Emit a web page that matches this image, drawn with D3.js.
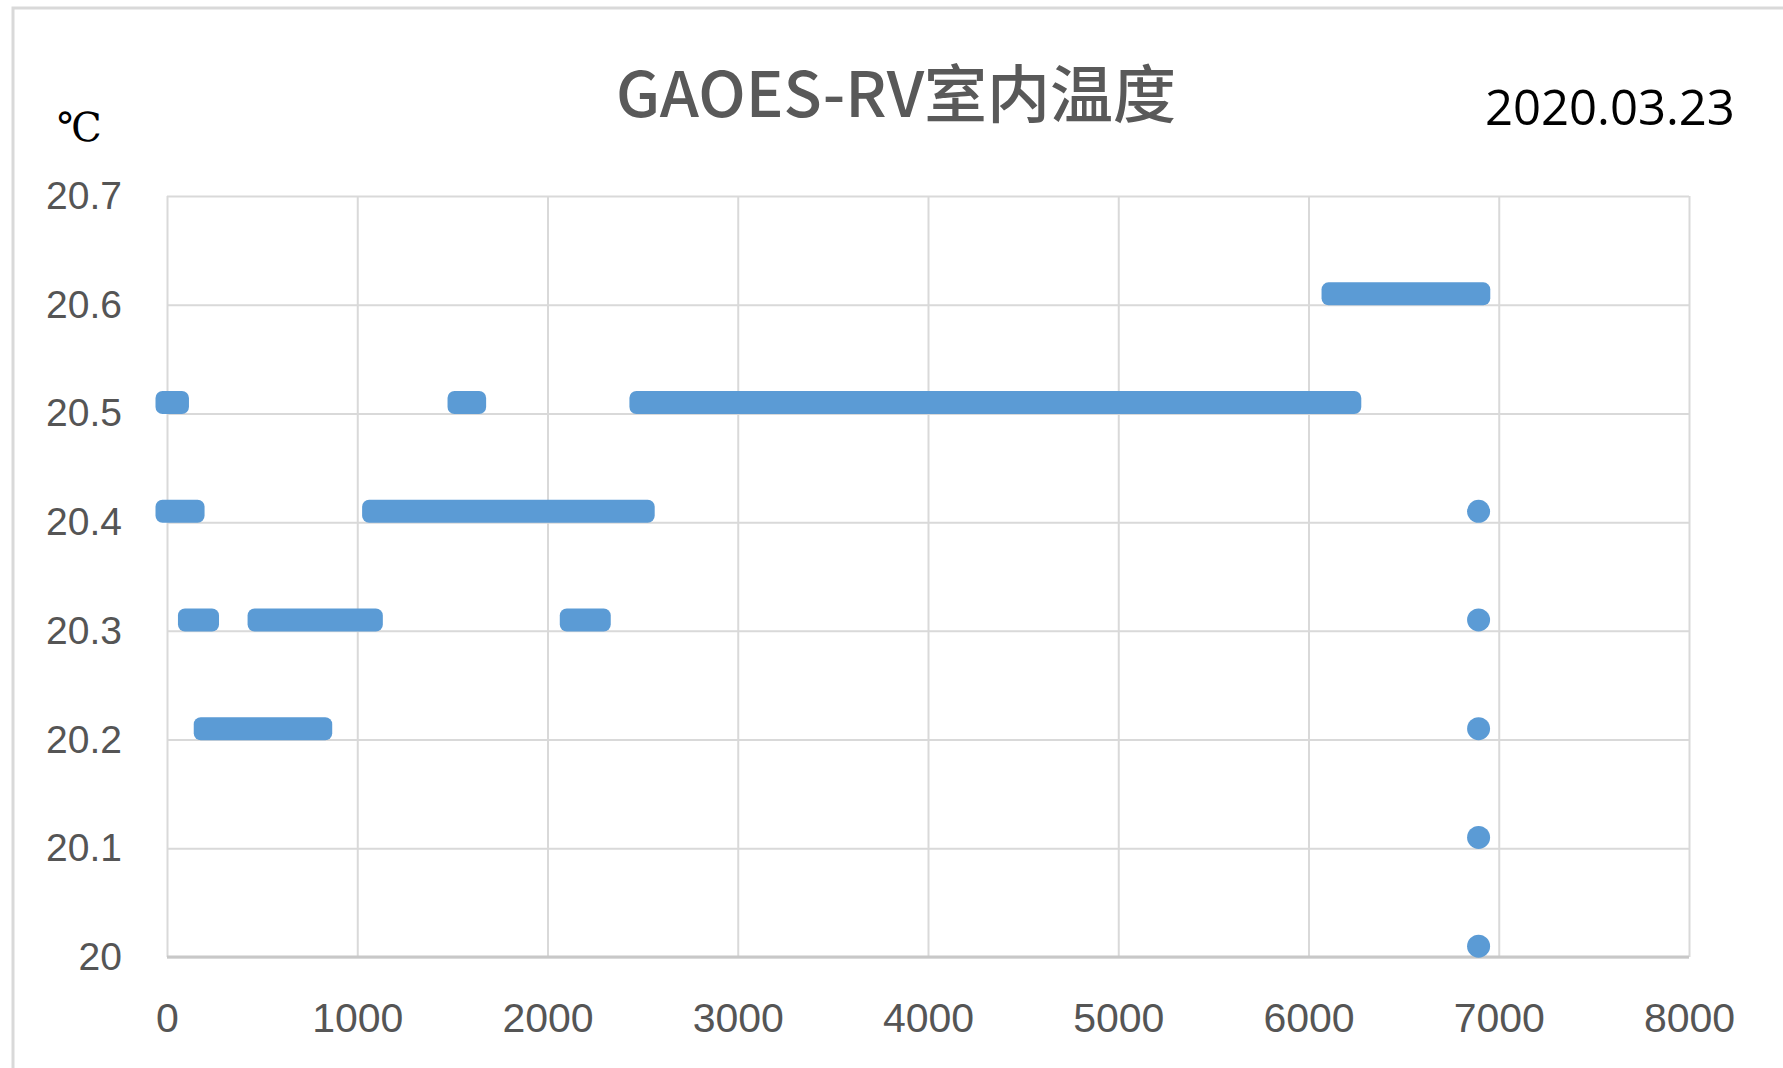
<!DOCTYPE html>
<html>
<head>
<meta charset="utf-8">
<script src="https://cdn.jsdelivr.net/npm/d3@7"></script>
<style>
  html, body { margin: 0; padding: 0; background: #fff; }
  #chart { width: 1783px; height: 1068px; }
  .tick text { fill: #555; font-family: "Liberation Sans", Arial, sans-serif; }
</style>
</head>
<body>
<div id="chart"></div>
<script>
// chart text
const titleText = 'GAOES-RV室内温度';
const dateText = '2020.03.23';
const unitText = '℃';

// axis ticks
const xTicks = [0, 1000, 2000, 3000, 4000, 5000, 6000, 7000, 8000];
const yTicks = [20, 20.1, 20.2, 20.3, 20.4, 20.5, 20.6, 20.7];

// runs of consecutive samples at one reading (sample index from / to, temperature)
const runFrom = [0, 1535, 2491, 6129, 0, 1086, 118, 484, 2125, 201];
const runTo   = [55, 1617, 6217, 6895, 137, 2503, 213, 1074, 2272, 808];
const runTemp = [20.51, 20.51, 20.51, 20.61, 20.41, 20.41, 20.31, 20.31, 20.31, 20.21];

// single samples at the end of the record
const pointX    = [6894, 6894, 6894, 6894, 6894];
const pointTemp = [20.41, 20.31, 20.21, 20.11, 20.01];

class ScatterChart {
    constructor(containerId) {
        this.container = d3.select(`#${containerId}`);
        this.dimensions = {
            width: 1783,
            height: 1068,
            margin: { top: 196, right: 94, bottom: 111, left: 167 }
        };
    }

    render() {
        const { width, height, margin } = this.dimensions;
        const innerWidth = width - margin.left - margin.right;
        const innerHeight = height - margin.top - margin.bottom;
        const blue = '#5b9bd5';
        const markerSize = 23;

        const svg = this.container.append('svg')
            .attr('width', width)
            .attr('height', height);

        // outer chart border (runs off the right and bottom edges)
        svg.append('rect')
            .attr('x', 13).attr('y', 8)
            .attr('width', width + 40).attr('height', height + 40)
            .attr('fill', '#fff')
            .attr('stroke', '#d9d9d9')
            .attr('stroke-width', 3);

        const g = svg.append('g')
            .attr('transform', `translate(${margin.left},${margin.top})`);

        const xScale = d3.scaleLinear().domain([0, 8000]).range([0, innerWidth]);
        const yScale = d3.scaleLinear().domain([20, 20.7]).range([innerHeight, 0]);

        // gridlines
        g.append('g')
            .attr('class', 'grid-x')
            .attr('transform', `translate(0,${innerHeight})`)
            .call(d3.axisBottom(xScale).tickValues(xTicks).tickSize(-innerHeight).tickFormat(''))
            .call(s => s.select('.domain').remove())
            .selectAll('line').attr('stroke', '#d9d9d9').attr('stroke-width', 2);

        g.append('g')
            .attr('class', 'grid-y')
            .call(d3.axisLeft(yScale).tickValues(yTicks).tickSize(-innerWidth).tickFormat(''))
            .call(s => s.select('.domain').remove())
            .selectAll('line').attr('stroke', '#d9d9d9').attr('stroke-width', 2);

        // bottom axis line
        g.append('line')
            .attr('x1', 0).attr('x2', innerWidth)
            .attr('y1', yScale(20)).attr('y2', yScale(20))
            .attr('stroke', '#c8c8c8')
            .attr('stroke-width', 3);

        // tick labels
        g.append('g')
            .attr('class', 'axis-x')
            .attr('transform', `translate(0,${innerHeight})`)
            .call(d3.axisBottom(xScale).tickValues(xTicks).tickSize(0).tickPadding(46).tickFormat(d3.format('d')))
            .call(s => s.select('.domain').remove())
            .selectAll('text').attr('font-size', 41);

        g.append('g')
            .attr('class', 'axis-y')
            .call(d3.axisLeft(yScale).tickValues(yTicks).tickSize(0).tickPadding(45).tickFormat(d => d3.format('')(+d.toFixed(1))))
            .call(s => s.select('.domain').remove())
            .selectAll('text').attr('font-size', 39);

        // runs of identical readings: overlapping markers merge into a bar
        const runs = runFrom.map((f, i) => ({ from: f, to: runTo[i], temp: runTemp[i] }));
        const r = markerSize / 2;
        g.selectAll('.run')
            .data(runs)
            .enter()
            .append('rect')
            .attr('class', 'run')
            .attr('x', d => xScale(d.from) - r)
            .attr('width', d => xScale(d.to) - xScale(d.from) + markerSize)
            .attr('y', d => yScale(d.temp) - r)
            .attr('height', markerSize)
            .attr('rx', 7)
            .attr('fill', blue);

        const points = pointX.map((x, i) => ({ x, temp: pointTemp[i] }));
        g.selectAll('.dot')
            .data(points)
            .enter()
            .append('circle')
            .attr('class', 'dot')
            .attr('cx', d => xScale(d.x))
            .attr('cy', d => yScale(d.temp))
            .attr('r', r)
            .attr('fill', blue);

        // title
        svg.append('text')
            .attr('x', 896)
            .attr('y', 117)
            .attr('text-anchor', 'middle')
            .attr('font-family', '"Noto Sans CJK SC", "Noto Sans", sans-serif')
            .attr('font-size', 63)
            .attr('font-weight', 500)
            .attr('fill', '#595959')
            .text(titleText);

        // date
        svg.append('text')
            .attr('x', 1485)
            .attr('y', 125)
            .attr('font-family', '"Open Sans", sans-serif')
            .attr('font-size', 49)
            .attr('fill', '#000')
            .text(dateText);

        // unit
        svg.append('text')
            .attr('x', 57)
            .attr('y', 141)
            .attr('font-family', '"DejaVu Serif", "Liberation Serif", serif')
            .attr('font-size', 40)
            .attr('fill', '#000')
            .text(unitText);
    }
}

const chart = new ScatterChart('chart');
chart.render();
</script>
</body>
</html>
